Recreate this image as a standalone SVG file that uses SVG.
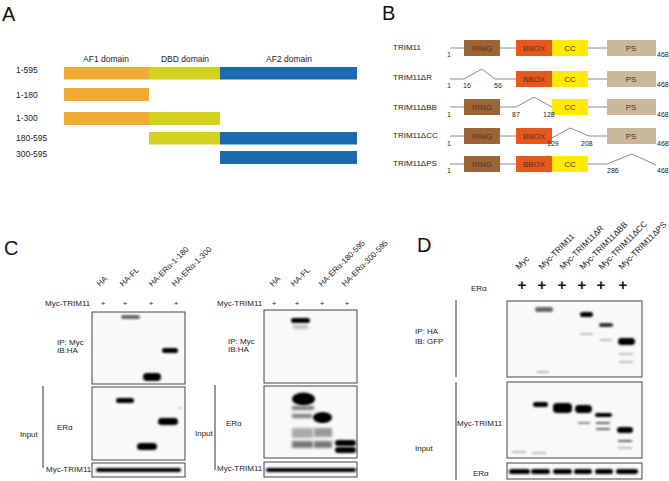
<svg xmlns="http://www.w3.org/2000/svg" width="669" height="481" viewBox="0 0 669 481">
<style>
text{font-family:"Liberation Sans",Arial,sans-serif;fill:#222}
.big{font-size:20px;fill:#111}
.t8{font-size:8px}
.t85{font-size:8.5px}
.t7{font-size:7px}
.lab{font-size:8px}
.labd{font-size:8.3px}
.bx{font-size:8px;fill:#4a3520;text-anchor:middle}
.plus{font-size:8px;text-anchor:middle}
.bplus{font-size:15px;font-weight:bold;text-anchor:middle;fill:#111}
.ln{stroke:#8a8a8a;stroke-width:1;fill:none}
.blot{fill:#f9f9f9;stroke:#444;stroke-width:1}
.vl{stroke:#333;stroke-width:1}
.bd{fill:#000;filter:url(#b)}
.bg{fill:#666;filter:url(#b)}
.bf{fill:#bbb;filter:url(#b)}
.sm{fill:#777;filter:url(#b2)}
.or{fill:#F0AC32}.ye{fill:#D3D21E}.bl{fill:#1C6BB0}
.ring{fill:#9A6436}.bbox{fill:#E8571B}.cc{fill:#FFEA00}.ps{fill:#C9B99A}
</style>
<defs>
<filter id="b" x="-30%" y="-80%" width="160%" height="260%"><feGaussianBlur stdDeviation="1"/></filter>
<filter id="b2" x="-30%" y="-80%" width="160%" height="260%"><feGaussianBlur stdDeviation="1.6"/></filter>
</defs>
<rect width="669" height="481" fill="#fff"/>

<!-- Panel A -->
<g id="panelA">
<text class="big" x="2" y="21">A</text>
<text class="t85" x="106" y="62" text-anchor="middle">AF1 domain</text>
<text class="t85" x="185" y="62" text-anchor="middle">DBD domain</text>
<text class="t85" x="289" y="62" text-anchor="middle">AF2 domain</text>
<g id="a1"><text class="t85" x="16" y="73">1-595</text><rect class="or" x="64" y="67" width="85" height="12.5"/><rect class="ye" x="149" y="67" width="71" height="12.5"/><rect class="bl" x="220" y="67" width="137" height="12.5"/></g>
<g id="a2"><text class="t85" x="16" y="98">1-180</text><rect class="or" x="64" y="88" width="85" height="13"/></g>
<g id="a3"><text class="t85" x="16" y="121">1-300</text><rect class="or" x="64" y="112" width="85" height="13"/><rect class="ye" x="149" y="112" width="71" height="13"/></g>
<g id="a4"><text class="t85" x="16" y="140.5">180-595</text><rect class="ye" x="149" y="132" width="71" height="12.5"/><rect class="bl" x="220" y="132" width="137" height="12.5"/></g>
<g id="a5"><text class="t85" x="16" y="157">300-595</text><rect class="bl" x="220" y="151" width="137" height="13"/></g>
</g>

<!-- Panel B -->
<g id="panelB">
<text class="big" x="382" y="20">B</text>
<g id="b1">
<text class="t8" x="393" y="50">TRIM11</text>
<line class="ln" x1="450" y1="48" x2="607" y2="48"/>
<rect class="ring" x="464" y="40" width="36" height="16"/><text class="bx" x="482" y="51">RING</text>
<rect class="bbox" x="516" y="40" width="36" height="16"/><text class="bx" x="534" y="51">BBOX</text>
<rect class="cc" x="552" y="40" width="36" height="16"/><text class="bx" x="570" y="51">CC</text>
<rect class="ps" x="607" y="40" width="49" height="16"/><text class="bx" x="631" y="51">PS</text>
<text class="t7" x="447" y="57">1</text><text class="t7" x="657" y="57">468</text>
</g>
<g id="b2">
<text class="t8" x="393" y="80">TRIM11ΔR</text>
<polyline class="ln" points="450,79 464,79 482,69 495,79 607,79"/>
<rect class="bbox" x="516" y="71" width="36" height="16"/><text class="bx" x="534" y="82">BBOX</text>
<rect class="cc" x="552" y="71" width="36" height="16"/><text class="bx" x="570" y="82">CC</text>
<rect class="ps" x="607" y="71" width="49" height="16"/><text class="bx" x="631" y="82">PS</text>
<text class="t7" x="447" y="88">1</text><text class="t7" x="463" y="88">16</text><text class="t7" x="494" y="88">56</text><text class="t7" x="657" y="87">468</text>
</g>
<g id="b3">
<text class="t8" x="393" y="110">TRIM11ΔBB</text>
<polyline class="ln" points="450,107 516,107 534,97 552,107"/>
<line class="ln" x1="588" y1="107" x2="607" y2="107"/>
<rect class="ring" x="464" y="99" width="36" height="16"/><text class="bx" x="482" y="110">RING</text>
<rect class="cc" x="552" y="99" width="36" height="16"/><text class="bx" x="570" y="110">CC</text>
<rect class="ps" x="607" y="99" width="49" height="16"/><text class="bx" x="631" y="110">PS</text>
<text class="t7" x="447" y="117">1</text><text class="t7" x="512" y="117">87</text><text class="t7" x="543" y="117">128</text><text class="t7" x="657" y="117">468</text>
</g>
<g id="b4">
<text class="t8" x="393" y="138">TRIM11ΔCC</text>
<line class="ln" x1="450" y1="136" x2="516" y2="136"/>
<polyline class="ln" points="552,138 570,128 589,136 607,136"/>
<rect class="ring" x="464" y="128" width="36" height="16"/><text class="bx" x="482" y="139">RING</text>
<rect class="bbox" x="516" y="128" width="36" height="16"/><text class="bx" x="534" y="139">BBOX</text>
<rect class="ps" x="607" y="128" width="49" height="16"/><text class="bx" x="631" y="139">PS</text>
<text class="t7" x="447" y="146">1</text><text class="t7" x="547" y="146">129</text><text class="t7" x="581" y="146">208</text><text class="t7" x="657" y="146">468</text>
</g>
<g id="b5">
<text class="t8" x="393" y="166">TRIM11ΔPS</text>
<polyline class="ln" points="450,164 607,164 632,154 656,165"/>
<rect class="ring" x="464" y="156" width="36" height="16"/><text class="bx" x="482" y="167">RING</text>
<rect class="bbox" x="516" y="156" width="36" height="16"/><text class="bx" x="534" y="167">BBOX</text>
<rect class="cc" x="552" y="156" width="36" height="16"/><text class="bx" x="570" y="167">CC</text>
<text class="t7" x="447" y="173">1</text><text class="t7" x="607" y="173">286</text><text class="t7" x="657" y="173">468</text>
</g>
</g>

<!-- Panel C -->
<g id="panelC">
<text class="big" x="4" y="255">C</text>
<g id="cLeft">
<text class="lab" transform="translate(100,287) rotate(-45)">HA</text>
<text class="lab" transform="translate(123,287) rotate(-45)">HA-FL</text>
<text class="lab" transform="translate(152,287) rotate(-45)">HA-ERα-1-180</text>
<text class="lab" transform="translate(175,287) rotate(-45)">HA-ERα-1-300</text>
<text class="t8" x="45" y="306">Myc-TRIM11</text>
<text class="plus" x="103" y="306">+</text><text class="plus" x="125" y="306">+</text><text class="plus" x="151" y="306">+</text><text class="plus" x="176" y="306">+</text>
<text class="t8" x="57" y="345">IP: Myc</text><text class="t8" x="57" y="353">IB:HA</text>
<text class="t8" x="57" y="430">ERα</text>
<text class="t8" x="20" y="437">Input</text>
<line class="vl" x1="43" y1="386" x2="43" y2="468"/>
<text class="t8" x="46" y="472">Myc-TRIM11</text>
<rect class="blot" x="92" y="312" width="93" height="72"/>
<rect class="blot" x="92" y="387" width="93" height="73"/>
<rect class="blot" x="92" y="463" width="93" height="14"/>
<rect class="bg" x="121" y="315" width="19" height="4" rx="2"/>
<rect class="bd" x="162" y="348" width="16" height="5" rx="2.5"/>
<rect class="bd" x="143" y="373" width="18" height="8" rx="4"/>
<rect class="bd" x="116" y="398" width="18" height="5" rx="2.5"/>
<rect class="bd" x="158" y="418" width="20" height="7" rx="3.5"/>
<rect class="bd" x="137" y="443" width="20" height="7" rx="3.5"/>
<rect class="bf" x="179" y="407" width="3" height="2"/>
<rect class="bd" x="96" y="468" width="85" height="4" rx="2"/>
</g>
<g id="cRight">
<text class="lab" transform="translate(273,287) rotate(-45)">HA</text>
<text class="lab" transform="translate(294,287) rotate(-45)">HA-FL</text>
<text class="lab" transform="translate(322,287) rotate(-45)">HA-ERα-180-595</text>
<text class="lab" transform="translate(345,287) rotate(-45)">HA-ERα-300-595</text>
<text class="t8" x="217" y="306">Myc-TRIM11</text>
<text class="plus" x="274" y="306">+</text><text class="plus" x="297" y="306">+</text><text class="plus" x="322" y="306">+</text><text class="plus" x="347" y="306">+</text>
<text class="t8" x="228" y="344">IP: Myc</text><text class="t8" x="228" y="352">IB:HA</text>
<text class="t8" x="226" y="426">ERα</text>
<text class="t8" x="195" y="436">Input</text>
<line class="vl" x1="215" y1="385" x2="215" y2="470"/>
<text class="t8" x="217" y="471">Myc-TRIM11</text>
<rect class="blot" x="264" y="310" width="93" height="73"/>
<rect class="blot" x="264" y="386" width="93" height="72"/>
<rect class="blot" x="264" y="462" width="93" height="15"/>
<rect class="bd" x="291" y="318" width="19" height="5" rx="2.5"/>
<rect class="bf" x="293" y="325" width="15" height="4" style="filter:url(#b2)"/>
<ellipse class="bd" cx="303.5" cy="399" rx="11.5" ry="6.5"/>
<rect class="sm" x="292" y="406" width="22" height="4"/>
<rect class="sm" x="292" y="414" width="20" height="4"/>
<rect class="sm" x="292" y="428" width="21" height="10" style="fill:#aaa"/>
<rect class="sm" x="292" y="441" width="21" height="7"/>
<ellipse class="bd" cx="322.5" cy="417.5" rx="9.5" ry="5.5"/>
<rect class="sm" x="314" y="428" width="18" height="9" style="fill:#999"/>
<rect class="sm" x="314" y="441" width="18" height="7"/>
<rect class="bd" x="335" y="440" width="21" height="6" rx="3"/>
<rect class="bd" x="335" y="447" width="21" height="6" rx="3"/>
<rect class="bd" x="266" y="468" width="90" height="4" rx="2"/>
</g>
</g>

<!-- Panel D -->
<g id="panelD">
<text class="big" x="417" y="252">D</text>
<text class="labd" transform="translate(519,270) rotate(-45)">Myc</text>
<text class="labd" transform="translate(542,270) rotate(-45)">Myc-TRIM11</text>
<text class="labd" transform="translate(563,270) rotate(-45)">Myc-TRIM11ΔR</text>
<text class="labd" transform="translate(583,270) rotate(-45)">Myc-TRIM11ΔBB</text>
<text class="labd" transform="translate(602,270) rotate(-45)">Myc-TRIM11ΔCC</text>
<text class="labd" transform="translate(622,270) rotate(-45)">Myc-TRIM11ΔPS</text>
<text class="t8" x="471" y="291">ERα</text>
<text class="bplus" x="522" y="290">+</text><text class="bplus" x="542" y="290">+</text><text class="bplus" x="562" y="290">+</text><text class="bplus" x="582" y="290">+</text><text class="bplus" x="601" y="290">+</text><text class="bplus" x="623" y="290">+</text>
<line class="vl" x1="456" y1="300" x2="456" y2="377"/>
<line class="vl" x1="456" y1="382" x2="456" y2="480"/>
<text class="t8" x="415" y="334">IP: HA</text><text class="t8" x="415" y="344">IB: GFP</text>
<text class="t8" x="457" y="426">Myc-TRIM11</text>
<text class="t8" x="415" y="451">Input</text>
<text class="t8" x="473" y="476">ERα</text>
<rect class="blot" x="507" y="301" width="135" height="76"/>
<rect class="blot" x="507" y="382" width="135" height="76"/>
<rect class="blot" x="507" y="463" width="135" height="16"/>
<rect class="bg" x="535" y="307" width="18" height="5" rx="2.5"/>
<rect class="bd" x="580" y="312" width="13" height="5" rx="2.5"/>
<rect class="bf" x="580" y="333" width="13" height="2"/>
<rect class="bd" x="599" y="323" width="14" height="4" rx="2" style="fill:#333"/>
<rect class="bf" x="600" y="339" width="12" height="2"/>
<rect class="bd" x="618" y="338" width="17" height="7" rx="3.5"/>
<rect class="bf" x="619" y="353" width="14" height="2"/>
<rect class="bf" x="619" y="361" width="14" height="2"/>
<rect class="bf" x="537" y="371" width="12" height="2"/>
<rect class="bd" x="533" y="402" width="15" height="5" rx="2.5"/>
<rect class="bd" x="553" y="403" width="19" height="10" rx="4"/>
<rect class="bd" x="575" y="405" width="17" height="8" rx="4"/>
<rect class="bf" x="578" y="422" width="12" height="2" style="fill:#888"/>
<rect class="bd" x="595" y="413" width="17" height="4" rx="2"/>
<rect class="bg" x="596" y="422" width="14" height="2"/>
<rect class="bg" x="596" y="428" width="14" height="2"/>
<rect class="bd" x="617" y="427" width="16" height="6" rx="3"/>
<rect class="bg" x="618" y="440" width="14" height="2"/>
<rect class="bf" x="618" y="447" width="14" height="2"/>
<rect class="bf" x="512" y="451" width="14" height="2"/>
<rect class="bf" x="532" y="452" width="14" height="2"/>
<rect class="bd" x="509" y="469" width="21" height="5" rx="2.5"/>
<rect class="bd" x="531" y="469" width="19" height="5" rx="2.5"/>
<rect class="bd" x="553" y="469" width="19" height="5" rx="2.5"/>
<rect class="bd" x="574" y="469" width="18" height="5" rx="2.5"/>
<rect class="bd" x="595" y="469" width="18" height="5" rx="2.5"/>
<rect class="bd" x="616" y="469" width="22" height="5" rx="2.5"/>
</g>
</svg>
